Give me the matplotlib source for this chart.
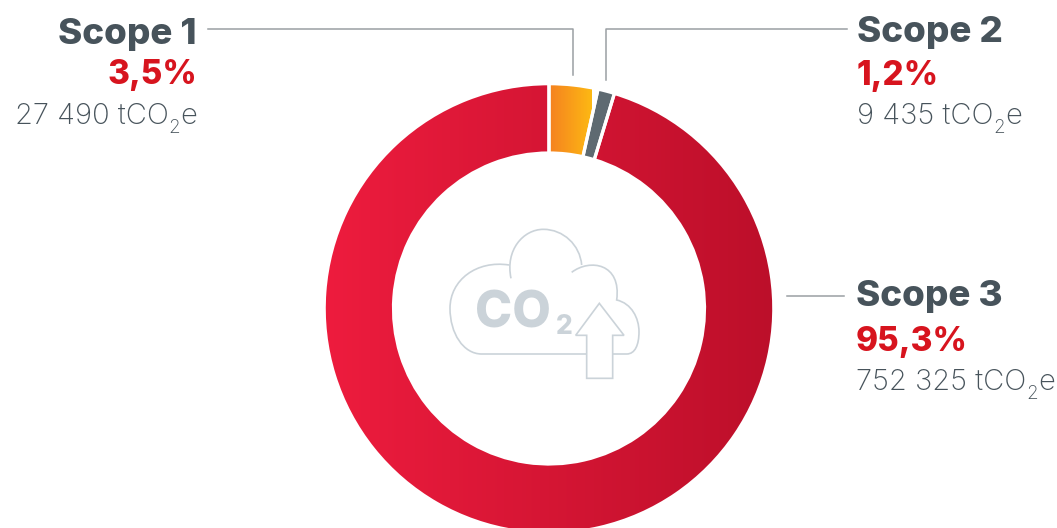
"""Scope emissions donut with gradient ring and CO2 cloud icon."""

import matplotlib

matplotlib.use("Agg")
import matplotlib.pyplot as plt
from matplotlib.colors import LinearSegmentedColormap
from matplotlib.patches import PathPatch, Polygon
from matplotlib.path import Path
import numpy as np

W, H = 1057, 528

scopes = ["Scope 1", "Scope 2", "Scope 3"]
shares = [3.5, 1.2, 95.3]
share_labels = ["3,5%", "1,2%", "95,3%"]
tonnes = ["27 490", "9 435", "752 325"]

GREY_TEXT = "#47535B"
RED_TEXT = "#D7141E"
LINE = "#9A9FA3"
ICON = "#CBD3D9"

CX, CY, R, R_IN = 549, 308.5, 224.8, 155.5

plt.rcParams["font.family"] = ["Inter", "Lato", "DejaVu Sans"]

fig = plt.figure(figsize=(W / 100, H / 100), dpi=100, facecolor="white")

# donut, y axis pointing up as pie expects
pie_ax = fig.add_axes([0, 0, 1, 1])
wedges, _ = pie_ax.pie(
    shares,
    startangle=90,
    counterclock=False,
    center=(CX, H - CY),
    radius=R,
    frame=True,
    wedgeprops={"width": R - R_IN, "edgecolor": "white", "linewidth": 2.3},
)


def gradient_fill(wedge, c0, c1, x0, x1):
    cmap = LinearSegmentedColormap.from_list("g", [c0, c1])
    im = pie_ax.imshow(
        np.linspace(0, 1, 256)[None, :],
        cmap=cmap,
        extent=(x0, x1, -50, H + 50),
        aspect="auto",
        zorder=0.5,
    )
    im.set_clip_path(wedge)
    wedge.set_facecolor("none")
    wedge.set_zorder(2)


gradient_fill(wedges[0], "#F58220", "#FDB913", 550, 592)
gradient_fill(wedges[2], "#EE1C3E", "#BC0F2A", CX - R, CX + R)
wedges[1].set_facecolor("#5E6A71")
pie_ax.set_xlim(0, W)
pie_ax.set_ylim(0, H)
pie_ax.axis("off")

# labels and icon in image coordinates
ax = fig.add_axes([0, 0, 1, 1])
ax.set_xlim(0, W)
ax.set_ylim(H, 0)
ax.axis("off")
ax.patch.set_alpha(0)

ax.plot([208, 573, 573], [29, 29, 75], color=LINE, lw=1.1)
ax.plot([847, 606, 606], [29, 29, 80], color=LINE, lw=1.1)
ax.plot([787, 844], [296, 296], color=LINE, lw=1.1)


def tonnes_label(x, y, value, ha):
    # tCO2e with a low, thin subscript, laid out piece by piece
    renderer = fig.canvas.get_renderer()
    parts = [(f"{value} tCO", 21, 0), ("2", 13.5, 9), ("e", 21, 0)]
    items = [
        ax.text(0, y + dy, s, ha="left", va="baseline", fontsize=size, weight="light", color=GREY_TEXT)
        for s, size, dy in parts
    ]
    widths = [t.get_window_extent(renderer).width for t in items]
    pos = x - sum(widths) if ha == "right" else x
    for t, w in zip(items, widths):
        t.set_x(pos)
        pos += w


positions = [
    (197, "right", 44, 84, 124),
    (857, "left", 42, 85, 124),
    (856, "left", 306, 351, 390),
]
for i, (x, ha, y_name, y_share, y_tonnes) in enumerate(positions):
    ax.text(x, y_name, scopes[i], ha=ha, va="baseline", fontsize=26.5, weight="heavy", color=GREY_TEXT)
    ax.text(x, y_share, share_labels[i], ha=ha, va="baseline", fontsize=24, weight="heavy", color=RED_TEXT)
    tonnes_label(x, y_tonnes, tonnes[i], ha)


def z(px, py):
    # zoomed crop coordinates to image pixels
    return (px / 3 + 440, py / 3 + 220)


M, C4, L = Path.MOVETO, Path.CURVE4, Path.LINETO
cloud = [
    (M, [(213, 175)]),
    (C4, [(195, 90), (250, 28), (310, 28)]),
    (C4, [(370, 28), (420, 75), (425, 135)]),
    (M, [(395, 157)]),
    (C4, [(450, 115), (545, 130), (530, 240)]),
    (C4, [(575, 250), (597, 295), (597, 335)]),
    (C4, [(597, 375), (585, 402), (560, 402)]),
    (L, [(125, 402)]),
    (C4, [(70, 402), (30, 340), (30, 265)]),
    (C4, [(30, 180), (110, 120), (207, 135)]),
]
verts, codes = [], []
for code, pts in cloud:
    for p in pts:
        verts.append(z(*p))
        codes.append(code)
ax.add_patch(PathPatch(Path(verts, codes), fill=False, edgecolor=ICON, lw=1.2, zorder=3))

arrow = [(478, 250), (552, 346), (518, 346), (518, 475), (440, 475), (440, 346), (407, 346)]
ax.add_patch(Polygon([z(*p) for p in arrow], closed=True, facecolor="white", edgecolor=ICON, lw=1.2, zorder=4))

ax.text(475, 328, "CO", ha="left", va="baseline", fontsize=36, weight="heavy", color=ICON, zorder=5)
ax.text(556, 334, "2", ha="left", va="baseline", fontsize=19, weight="heavy", color=ICON, zorder=5)

fig.savefig("out.png", dpi=100)
